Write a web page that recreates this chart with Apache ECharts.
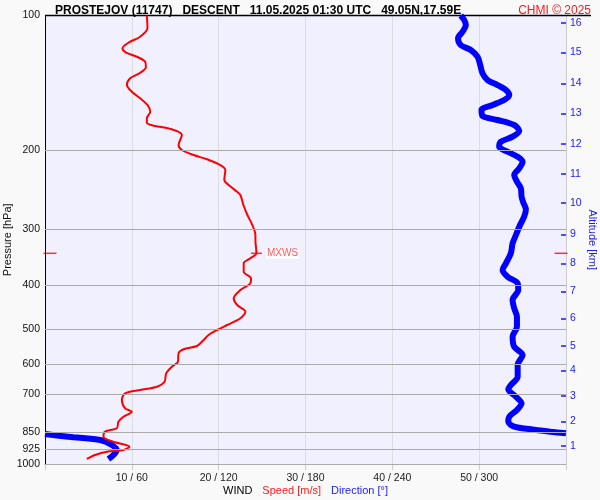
<!DOCTYPE html>
<html><head><meta charset="utf-8">
<script src="https://cdn.jsdelivr.net/npm/echarts@6/dist/echarts.min.js"></script>
<style>html,body{margin:0;padding:0;background:#f9f9f9}#c{width:600px;height:500px}</style>
</head><body><div id="c"></div>
<script>
// ---- data ----
const titleText = 'PROSTEJOV (11747)   DESCENT   11.05.2025 01:30 UTC   49.05N,17.59E';
const copyrightText = 'CHMI © 2025';
const pressureTicks = [100, 200, 300, 400, 500, 600, 700, 850, 925, 1000];
const speedTicks = [10, 20, 30, 40, 50];
const directionTicks = [60, 120, 180, 240, 300];
const altKm = [1, 2, 3, 4, 5, 6, 7, 8, 9, 10, 11, 12, 13, 14, 15, 16];
const altPressure = [910.4, 803.0, 704.3, 618.2, 544.8, 473.3, 412.0, 356.8, 307.5, 261.9, 225.6, 193.4, 165.2, 141.6, 120.8, 103.8];

const speedPressure = [100, 106.8, 111.5, 115.0, 118.3, 121.0, 123.6, 126.8, 130.5, 134.5, 138.0, 142.9, 147.9, 153.0, 158.3, 163.9, 169.5, 173.4, 176.4, 178.5, 184.7, 194.4, 199.5, 204.7, 209.2, 215.5, 221.1, 232.7, 238.8, 247.1, 251.3, 264.6, 278.5, 293.2, 308.6, 316.6, 339.0, 347.8, 356.9, 372.6, 385.4, 395.5, 409.3, 427.1, 442.1, 457.5, 473.3, 489.9, 502.6, 515.7, 529.1, 545.6, 554.9, 566.5, 591.4, 606.8, 627.7, 655.4, 672.4, 683.9, 695.6, 719.9, 751.3, 764.5, 784.4, 804.8, 832.5, 847.2, 869.2, 891.8, 915.0, 930.6, 938.8, 954.8, 974.6];
const speed = [11.73, 11.80, 10.96, 9.61, 8.92, 9.35, 10.58, 11.54, 11.62, 10.88, 9.81, 9.43, 10.00, 10.96, 11.80, 12.12, 11.73, 11.73, 12.69, 14.23, 15.77, 15.38, 15.77, 17.11, 18.66, 20.19, 20.77, 20.65, 21.15, 22.12, 22.50, 22.85, 23.31, 23.88, 24.23, 24.23, 24.35, 23.65, 22.88, 22.88, 23.73, 23.65, 22.50, 21.73, 22.12, 23.08, 22.50, 20.97, 19.81, 18.84, 18.27, 17.50, 15.96, 15.38, 15.31, 14.62, 13.96, 13.77, 12.89, 10.96, 9.23, 8.85, 9.23, 10.00, 9.03, 8.46, 8.27, 6.92, 6.73, 7.88, 9.73, 9.03, 7.12, 5.77, 4.81];

const dirPressure = [100, 102.3, 105.0, 108.7, 112.4, 116.4, 119.4, 123.6, 128.9, 134.5, 139.3, 142.9, 146.6, 150.4, 154.3, 158.3, 162.4, 167.5, 171.0, 175.5, 180.7, 186.3, 191.2, 196.1, 201.2, 206.5, 211.8, 219.1, 226.8, 234.7, 242.8, 253.5, 262.3, 270.5, 280.9, 295.7, 308.6, 322.0, 339.0, 356.9, 369.4, 382.3, 395.5, 409.3, 430.8, 449.6, 469.4, 494.2, 520.2, 547.6, 571.5, 601.5, 638.8, 666.6, 681.5, 707.9, 732.3, 757.9, 784.4, 804.8, 825.8, 836.9, 847.2, 854.2, 855.5, 857.3, 872.0, 884.2, 907.1, 930.6, 954.8, 974.6];
const direction = [287.3, 289.6, 290.8, 288.5, 285.4, 287.3, 294.2, 298.9, 300.7, 302.3, 305.8, 312.7, 318.5, 320.8, 317.3, 309.3, 301.6, 302.3, 312.7, 324.2, 327.7, 323.1, 315.0, 313.8, 319.6, 326.6, 330.0, 327.7, 324.2, 326.1, 328.8, 329.3, 330.7, 332.3, 331.1, 327.7, 325.4, 323.1, 321.9, 318.5, 316.2, 319.6, 326.6, 327.0, 323.1, 324.2, 326.1, 326.1, 323.1, 324.2, 330.0, 326.6, 326.6, 321.9, 320.1, 325.4, 329.3, 326.1, 320.8, 320.1, 324.2, 335.8, 349.6, 360, null, 0, 19.6, 38.1, 46.2, 49.6, 47.3, 43.8];

const mxwsLabel = 'MXWS';
const mxwsSpeed = 24.35;
const mxwsPressure = 339.0;

// ---- chart ----
const FONT = '"Liberation Sans", Arial, sans-serif';
const chart = echarts.init(document.getElementById('c'), null, { renderer: 'canvas' });

const redData = speed.map((s, i) => [s, speedPressure[i]]);
const blueData = direction.map((d, i) => d === null ? ['-', dirPressure[i]] : [d, dirPressure[i]]);

function altLabel(v) {
  const i = altPressure.findIndex(p => Math.abs(p - v) < 0.05);
  return i >= 0 ? String(altKm[i]) : '';
}
function pressLabel(v) {
  return String(Math.round(v));
}
function windLabel(v) {
  const i = speedTicks.indexOf(v);
  return i >= 0 ? speedTicks[i] + ' / ' + directionTicks[i] : '';
}

const option = {
  backgroundColor: '#f9f9f9',
  animation: false,
  textStyle: { fontFamily: FONT },
  title: [
    { text: titleText, left: 50, top: 0, textStyle: { fontFamily: FONT, fontSize: 12, fontWeight: 'bold', color: '#000' } },
    { text: copyrightText, right: 4, top: 0, textStyle: { fontFamily: FONT, fontSize: 12, fontWeight: 'normal', color: '#ee1c1c' } }
  ],
  graphic: [
    { type: 'line', z: 1, shape: { x1: 45, y1: 15.5, x2: 591, y2: 15.5 }, style: { stroke: '#000', lineWidth: 1.5 } }
  ],
  grid: { left: 45, right: 34, top: 15.5, bottom: 36, show: true, backgroundColor: '#f0f0ff', borderWidth: 0,
          containLabel: false, outerBoundsMode: 'none' },
  xAxis: [
    {
      type: 'value', min: 0, max: 60, interval: 10,
      axisLine: { show: true, lineStyle: { color: '#aaa' } },
      axisTick: { show: true, length: 6, lineStyle: { color: '#ccc' } },
      splitLine: { show: true, lineStyle: { color: '#ddd' } },
      axisLabel: { fontFamily: FONT, fontSize: 10.5, color: '#222', margin: 9, formatter: windLabel },
      name: '{w|WIND}   {s|Speed [m/s]}   {d|Direction [°]}',
      nameLocation: 'middle', nameGap: 27, nameMoveOverlap: false,
      nameTextStyle: { verticalAlign: 'middle', rich: {
        w: { color: '#000', fontSize: 11, fontFamily: FONT },
        s: { color: '#ff1a1a', fontSize: 11, fontFamily: FONT },
        d: { color: '#1a1aff', fontSize: 11, fontFamily: FONT } } }
    },
    { type: 'value', min: 0, max: 360, show: false }
  ],
  yAxis: [
    {
      type: 'log', logBase: 10, min: 100, max: 1000, inverse: true,
      axisLine: { show: true, onZero: false, lineStyle: { color: '#000', width: 1 } },
      axisTick: { show: false },
      splitLine: { show: false },
      axisLabel: { customValues: pressureTicks, formatter: pressLabel, fontFamily: FONT, fontSize: 10.5, color: '#111', margin: 5 },
      name: 'Pressure [hPa]', nameLocation: 'middle', nameGap: 37, nameRotate: 90, nameMoveOverlap: false,
      nameTextStyle: { fontSize: 11, color: '#111', fontFamily: FONT, verticalAlign: 'middle' }
    },
    {
      type: 'log', logBase: 10, min: 100, max: 1000, inverse: true, position: 'right',
      axisLine: { show: true, onZero: false, lineStyle: { color: '#ccc' } },
      axisTick: { show: true, inside: true, length: 5, customValues: altPressure, lineStyle: { color: '#1a1aff', width: 1.5 } },
      axisLabel: { customValues: altPressure, formatter: altLabel, fontFamily: FONT, fontSize: 10.5, color: '#1a1aff', margin: 4 },
      splitLine: { show: false },
      name: 'Altitude [km]', nameLocation: 'middle', nameGap: 26, nameRotate: -90, nameMoveOverlap: false,
      nameTextStyle: { fontSize: 11, color: '#1a1aff', fontFamily: FONT, verticalAlign: 'middle' }
    }
  ],
  series: [
    {
      type: 'line', data: [], xAxisIndex: 0, yAxisIndex: 0, silent: true, z: 1,
      markLine: {
        silent: true, symbol: 'none', animation: false, label: { show: false },
        lineStyle: { color: '#aaa', width: 1, type: 'solid' },
        data: pressureTicks.filter(p => p > 100).map(p => ({ yAxis: p }))
      }
    },
    {
      name: 'Direction', type: 'line', xAxisIndex: 1, yAxisIndex: 0, data: blueData,
      symbol: 'none', smooth: 0.3, z: 3,
      lineStyle: { color: '#0000ff', width: 6 }
    },
    {
      name: 'Speed', type: 'line', xAxisIndex: 0, yAxisIndex: 0, data: redData,
      symbol: 'none', smooth: 0.3, z: 4,
      lineStyle: { color: '#ff0000', width: 2 }
    },
    {
      type: 'scatter', xAxisIndex: 0, yAxisIndex: 0, z: 5, clip: false, silent: true,
      symbol: 'rect', symbolSize: [11, 1.5], itemStyle: { color: '#ff0000' },
      label: { show: true, position: 'right', distance: 4, formatter: mxwsLabel, color: '#ff3030',
               fontSize: 10, fontFamily: FONT, backgroundColor: '#ffffff', padding: [1, 1, 0, 1] },
      data: [[mxwsSpeed, mxwsPressure]]
    },
    {
      type: 'scatter', xAxisIndex: 0, yAxisIndex: 0, z: 5, clip: false, silent: true,
      symbol: 'rect', symbolSize: [13, 1.5], itemStyle: { color: '#ff0000' },
      data: [
        { value: [0, mxwsPressure], symbolOffset: [5, 0] },
        { value: [60, mxwsPressure], symbolOffset: [-5, 0] }
      ]
    }
  ]
};
chart.setOption(option);
</script>
</body></html>
